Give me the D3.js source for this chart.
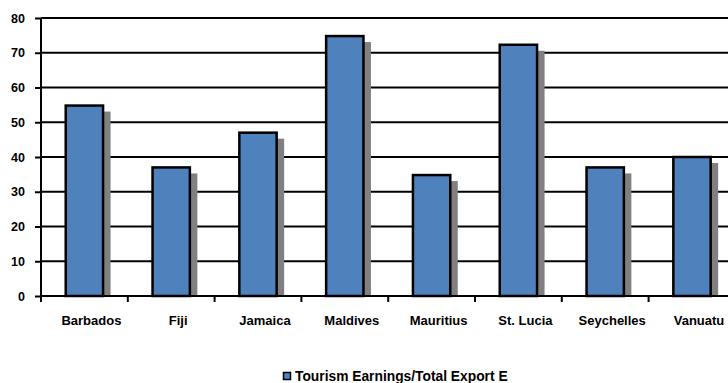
<!DOCTYPE html>
<html><head><meta charset="utf-8">
<script src="https://cdn.jsdelivr.net/npm/d3@7"></script>
<style>body{margin:0;background:#fff}svg{display:block}text{font-family:"Liberation Sans",Arial,sans-serif;font-weight:bold}</style>
</head><body>
<script>
const categories = ["Barbados","Fiji","Jamaica","Maldives","Mauritius","St. Lucia","Seychelles","Vanuatu"];
const values = [54.8, 37.0, 47.0, 74.8, 34.8, 72.3, 37.0, 40.0];
const yTicks = [0,10,20,30,40,50,60,70,80];
const seriesName = "Tourism Earnings/Total Export Earnings";

const W = 728, H = 383;
const FONT = '"Liberation Sans",Arial,sans-serif';
const svg = d3.select("body").append("svg").attr("width", W).attr("height", H);
const pLeft = 41, pRight = 735.4, pTop = 18, pBottom = 296;

const x = d3.scaleBand().domain(categories).range([pLeft, pRight]).padding(0);
const y = d3.scaleLinear().domain([0, 80]).range([pBottom, pTop]);
const barW = x.bandwidth() * 0.43;

// gridlines
svg.append("g").selectAll("line").data(yTicks.filter(d => d > 0)).join("line")
  .attr("x1", pLeft).attr("x2", W).attr("y1", d => y(d)).attr("y2", d => y(d))
  .attr("stroke", "#000").attr("stroke-width", 2);

// shadows
svg.append("defs").append("clipPath").attr("id", "pc").append("rect")
  .attr("x", pLeft).attr("y", 0).attr("width", W).attr("height", pBottom);
svg.append("g").attr("clip-path", "url(#pc)").selectAll("rect").data(values).join("rect")
  .attr("x", (d, i) => x(categories[i]) + (x.bandwidth() - barW) / 2 + 7.5)
  .attr("y", d => y(d) + 6)
  .attr("width", barW).attr("height", d => pBottom - y(d))
  .attr("fill", "#808080");

// bars
svg.append("g").selectAll("rect").data(values).join("rect")
  .attr("x", (d, i) => x(categories[i]) + (x.bandwidth() - barW) / 2)
  .attr("y", d => y(d))
  .attr("width", barW).attr("height", d => pBottom - y(d))
  .attr("fill", "#4F81BD").attr("stroke", "#000").attr("stroke-width", 2.5);

// y axis
const ya = svg.append("g").attr("transform", `translate(${pLeft},0)`)
  .call(d3.axisLeft(y).tickValues(yTicks).tickSize(6).tickPadding(10));
ya.select(".domain").attr("stroke-width", 2).attr("d", `M0,${y(80)}V${pBottom+6}`);
ya.selectAll(".tick line").attr("stroke-width", 2);
ya.selectAll(".tick text").attr("font-size", 12.5).attr("font-weight", "bold")
  .attr("font-family", FONT).attr("fill", "#000");

// x axis
const xa = svg.append("g").attr("transform", `translate(0,${pBottom})`)
  .call(d3.axisBottom(x).tickSize(0).tickPadding(20));
xa.select(".domain").attr("stroke-width", 2).attr("d", `M${pLeft},0H${W}`);
xa.selectAll(".tick text").attr("font-size", 13).attr("font-weight", "bold")
  .attr("font-family", FONT).attr("fill", "#000").attr("dx", 7);
// category boundary ticks
svg.append("g").selectAll("line").data(categories.slice(1)).join("line")
  .attr("x1", d => x(d)).attr("x2", d => x(d)).attr("y1", pBottom).attr("y2", pBottom + 6)
  .attr("stroke", "#000").attr("stroke-width", 2);

// legend
svg.append("defs").append("clipPath").attr("id", "lc").append("rect")
  .attr("x", 270).attr("y", 360).attr("width", 238).attr("height", 23);
const lg = svg.append("g").attr("clip-path", "url(#lc)");
lg.append("rect").attr("x", 283.5).attr("y", 372.5).attr("width", 7).attr("height", 7)
  .attr("fill", "#4F81BD").attr("stroke", "#000").attr("stroke-width", 1.5);
lg.append("text").attr("x", 295).attr("y", 380.5).attr("font-size", 13.8)
  .attr("font-family", FONT).text(seriesName);
</script>
</body></html>
